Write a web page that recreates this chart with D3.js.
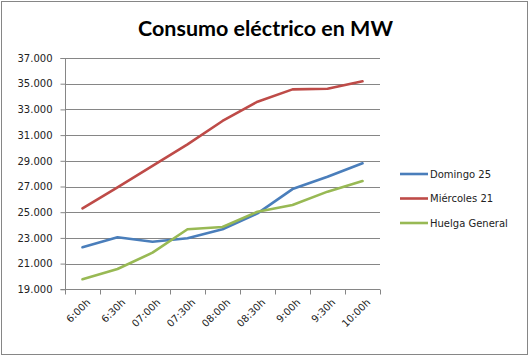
<!DOCTYPE html>
<html><head><meta charset="utf-8">
<script src="https://cdn.jsdelivr.net/npm/d3@7"></script>
<style>body{margin:0;background:#fff}</style>
</head><body>
<svg id="c" width="529" height="357"></svg>
<script>
const categories = ["6:00h","6:30h","07:00h","07:30h","08:00h","08:30h","9:00h","9:30h","10:00h"];
const domingo = [22270,23050,22700,22970,23670,24910,26800,27760,28810];
const miercoles = [25300,26940,28600,30280,32100,33600,34560,34610,35190];
const huelga = [19780,20580,21850,23670,23850,25040,25560,26600,27430];
const seriesNames = ["Domingo 25","Miércoles 21","Huelga General"];
const yTicks = [19000,21000,23000,25000,27000,29000,31000,33000,35000,37000];
const title = "Consumo eléctrico en MW";

const colors = ["#4a7ebb","#be4b48","#98b954"];
const series = [domingo, miercoles, huelga];
const svg = d3.select("#c");
svg.append("rect").attr("x",1.5).attr("y",1.5).attr("width",526).attr("height",353)
  .attr("fill","#fff").attr("stroke","#868686").attr("stroke-width",1);

const L=65, R=380, T=58, B=289.3;
const x = d3.scaleBand().domain(categories).range([L,R]);
const y = d3.scaleLinear().domain([19000,37000]).range([B,T]);
const fmt = d => d3.format(",")(d).replace(/,/g,".");

// gridlines
svg.append("g").selectAll("line").data(yTicks.slice(1)).join("line")
  .attr("x1",L).attr("x2",R).attr("y1",d=>Math.round(y(d))+0.5).attr("y2",d=>Math.round(y(d))+0.5)
  .attr("stroke","#868686").attr("stroke-width",1);

// y axis
const ya = svg.append("g").attr("transform",`translate(${L+0.5},0)`)
  .call(d3.axisLeft(y).tickValues(yTicks).tickFormat(fmt).tickSize(5).tickPadding(8));
ya.select(".domain").attr("stroke","#868686").attr("d",`M-5,${Math.round(T)+0.5}H0V${Math.round(B)+0.5}H-5`);
ya.selectAll(".tick line").attr("stroke","#868686");
ya.selectAll("text").attr("font-family","DejaVu Sans").attr("font-size",10).attr("fill","#222");

// x axis
const xa = svg.append("g").attr("transform",`translate(0,${Math.round(B)+0.5})`);
xa.append("line").attr("x1",L).attr("x2",R).attr("stroke","#868686");
xa.selectAll("line.t").data(categories.map((c,i)=>i).concat([categories.length])).join("line")
  .attr("class","t")
  .attr("x1",i=>Math.round(i<categories.length?x(categories[i]):R)+0.5)
  .attr("x2",i=>Math.round(i<categories.length?x(categories[i]):R)+0.5)
  .attr("y1",0).attr("y2",5).attr("stroke","#868686");
xa.selectAll("text").data(categories).join("text")
  .attr("transform",d=>`translate(${x(d)+x.bandwidth()/2+6},${11}) rotate(-45)`)
  .attr("text-anchor","end").attr("dy","0.35em")
  .attr("font-family","DejaVu Sans").attr("font-size",10).attr("fill","#222").text(d=>d);

// lines
const line = d3.line().x((d,i)=>x(categories[i])+x.bandwidth()/2).y(d=>y(d));
series.forEach((s,k)=>{
  svg.append("path").datum(s).attr("d",line).attr("fill","none")
    .attr("stroke",colors[k]).attr("stroke-width",2.6).attr("stroke-linejoin","round").attr("stroke-linecap","round");
});

// legend
const lg = svg.append("g");
seriesNames.forEach((n,k)=>{
  const yy = 174 + k*24.5;
  lg.append("line").attr("x1",400).attr("x2",428).attr("y1",yy).attr("y2",yy)
    .attr("stroke",colors[k]).attr("stroke-width",2.6);
  lg.append("text").attr("x",430).attr("y",yy).attr("dy","0.35em")
    .attr("font-family","DejaVu Sans").attr("font-size",10).attr("fill","#222").text(n);
});

// title
const t = svg.append("text").attr("x",265.5).attr("y",36).attr("text-anchor","middle")
  .attr("font-family","Lato").attr("font-weight","bold").attr("font-size",21).attr("fill","#000").text(title);
const w = t.node().getComputedTextLength();
t.attr("font-size", 21*255/w);
</script>
</body></html>
